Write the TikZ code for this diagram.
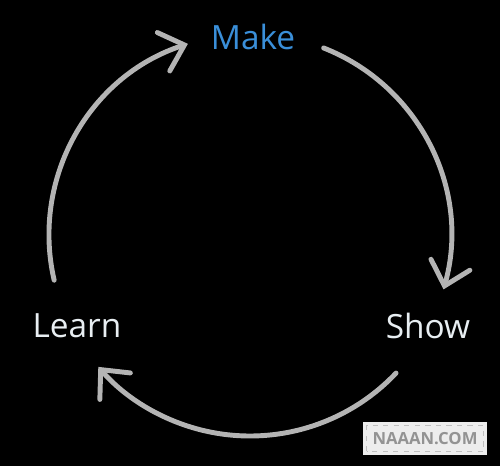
\documentclass[tikz,border=0pt]{standalone}
\usepackage{fontspec}
\setmainfont{Open Sans}
\usetikzlibrary{arrows.meta, positioning, calc}

\definecolor{makeblue}{HTML}{3A8FD9}
\definecolor{arcgray}{HTML}{B4B4B4}
\definecolor{labelwhite}{HTML}{E8EEF2}

\begin{document}
\begin{tikzpicture}[
    stagelabel/.style={text=labelwhite, font=\fontsize{19}{23}\selectfont},
    cyclearrow/.style={draw=arcgray, line width=2.8pt, line cap=round,
        -{Straight Barb[length=12.5pt, width=23pt, line cap=round]}}]
    % background and page size
    \fill[black] (0,0) rectangle (10,9.32);
    \useasboundingbox (0,0) rectangle (10,9.32);
    \coordinate (c) at (5,4.62);

    % the three stages
    \node[stagelabel, text=makeblue] (make) at (5.06,8.58) {Make};
    \node[stagelabel] (learn) at (1.54,2.80) {Learn};
    \node[stagelabel] (show) at (8.56,2.80) {Show};

    % arcs of the cycle
    \draw[cyclearrow] ($(c)+(193:4.02)$) arc[start angle=193, end angle=108, radius=4.02];
    \draw[cyclearrow] ($(c)+(68.5:4.02)$) arc[start angle=68.5, end angle=-15.7, radius=4.02];
    \draw[cyclearrow] ($(c)+(-43.4:4.02)$) arc[start angle=-43.4, end angle=-139, radius=4.02];

    % watermark
    \node[fill=white!93!black, minimum width=2.48cm, minimum height=0.66cm,
        inner sep=0pt] (mark) at (8.5,0.55) {};
    \draw[gray!50, dashed, line width=0.4pt] ($(mark.south west)+(0.08,0.08)$)
        rectangle ($(mark.north east)-(0.08,0.08)$);
    \node[text=gray!85, font=\bfseries\fontsize{9.5}{11}\selectfont] at (mark) {NAAAN.COM};
\end{tikzpicture}
\end{document}
